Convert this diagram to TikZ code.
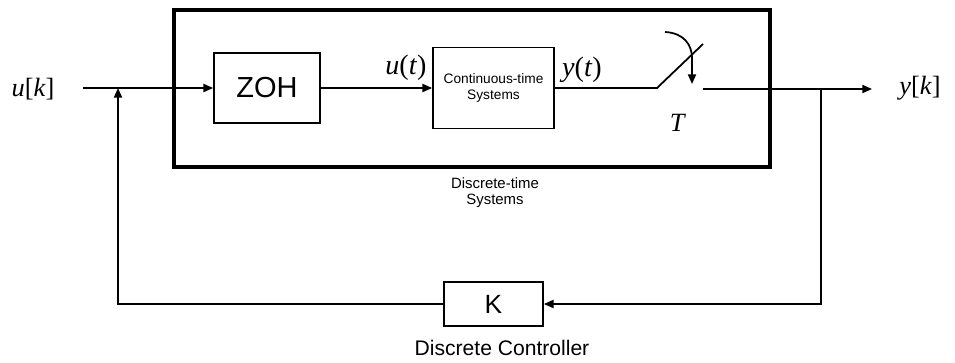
\documentclass[tikz,border=0pt]{standalone}
\usepackage{fontspec}
\setmainfont{Liberation Sans}
\newfontfamily\timesfont{Liberation Serif}
\usetikzlibrary{arrows.meta, positioning, calc}
\definecolor{ink}{HTML}{000000}
\def\thin{1pt}
\def\heavy{2.2pt}

\begin{document}
\begin{tikzpicture}[
    x=0.02cm, y=-0.02cm,
    every node/.style={font=\rmfamily, text=ink},
    blk/.style={draw=ink, line width=\thin, inner sep=0pt},
    wire/.style={draw=ink, line width=\thin},
    sig/.style={wire, -{Triangle[length=5.5pt, width=4.6pt]}},
    mlab/.style={font=\timesfont\fontsize{15}{15}\selectfont},
    twoline/.style={align=center},
]
\useasboundingbox (0,0) rectangle (955,362);

% ---------------------------------------------------------- discrete-time system
\node[draw=ink, line width=\heavy, minimum width=11.92cm, minimum height=3.14cm]
    (dts) at (472,88.5) {};
\node[twoline, font=\fontsize{8.5}{9.2}\selectfont] (dtslab) at (495,193)
    {Discrete-time\\Systems};

\node[blk, minimum width=2.12cm, minimum height=1.40cm,
      font=\fontsize{16.5}{17}\selectfont] (zoh) at (267,88) {ZOH};
\node[blk, twoline, minimum width=2.42cm, minimum height=1.62cm,
      font=\fontsize{7.8}{8.6}\selectfont] (cts) at (493.5,88) {Continuous-time\\Systems};

% ---------------------------------------------------------- controller
\node[blk, minimum width=1.98cm, minimum height=0.88cm,
      font=\fontsize{15}{15}\selectfont] (ctrl) at (493.5,304) {K};
\node[font=\fontsize{12}{12}\selectfont] (ctrllab) at (502,348) {Discrete Controller};

% ---------------------------------------------------------- signal labels
\node[mlab] (uk) at (33,89)  {\textit{u}[\textit{k}]};
\node[mlab] (yk) at (920,88) {\textit{y}[\textit{k}]};
\node[mlab, font=\timesfont\fontsize{16}{16}\selectfont] (ut) at (406,68) {\textit{u}(\textit{t})};
\node[mlab, font=\timesfont\fontsize{16}{16}\selectfont] (yt) at (582,70) {\textit{y}(\textit{t})};
\node[mlab] (tlab) at (678,123) {\textit{T}};

% ---------------------------------------------------------- forward path
\coordinate (in)  at (83,88);
\coordinate (j1)  at (118,88);
\coordinate (s0)  at (657,88);
\coordinate (s1)  at (703,44);
\coordinate (s2)  at (703,89);
\coordinate (j2)  at (821,89);
\coordinate (out) at (872,89);

\draw[sig] (in) -- (zoh.west);
\draw[sig] (zoh.east) -- (cts.west);
\draw[wire] (cts.east) -- (s0) -- (s1);
\draw[sig] (s2) -- (out);

% sampler
\coordinate (a0) at (665,32);
\coordinate (a1) at (692,84);
\draw[sig] (a0) .. controls (684,33) and (692,45) .. (692,58) -- (a1);

% ---------------------------------------------------------- feedback
\coordinate (c2) at (821,304);
\coordinate (c1) at (118,304);
\draw[sig] (j2) -- (c2) -- (ctrl.east);
\draw[sig] (ctrl.west) -- (c1) -- (j1);

\end{tikzpicture}
\end{document}
